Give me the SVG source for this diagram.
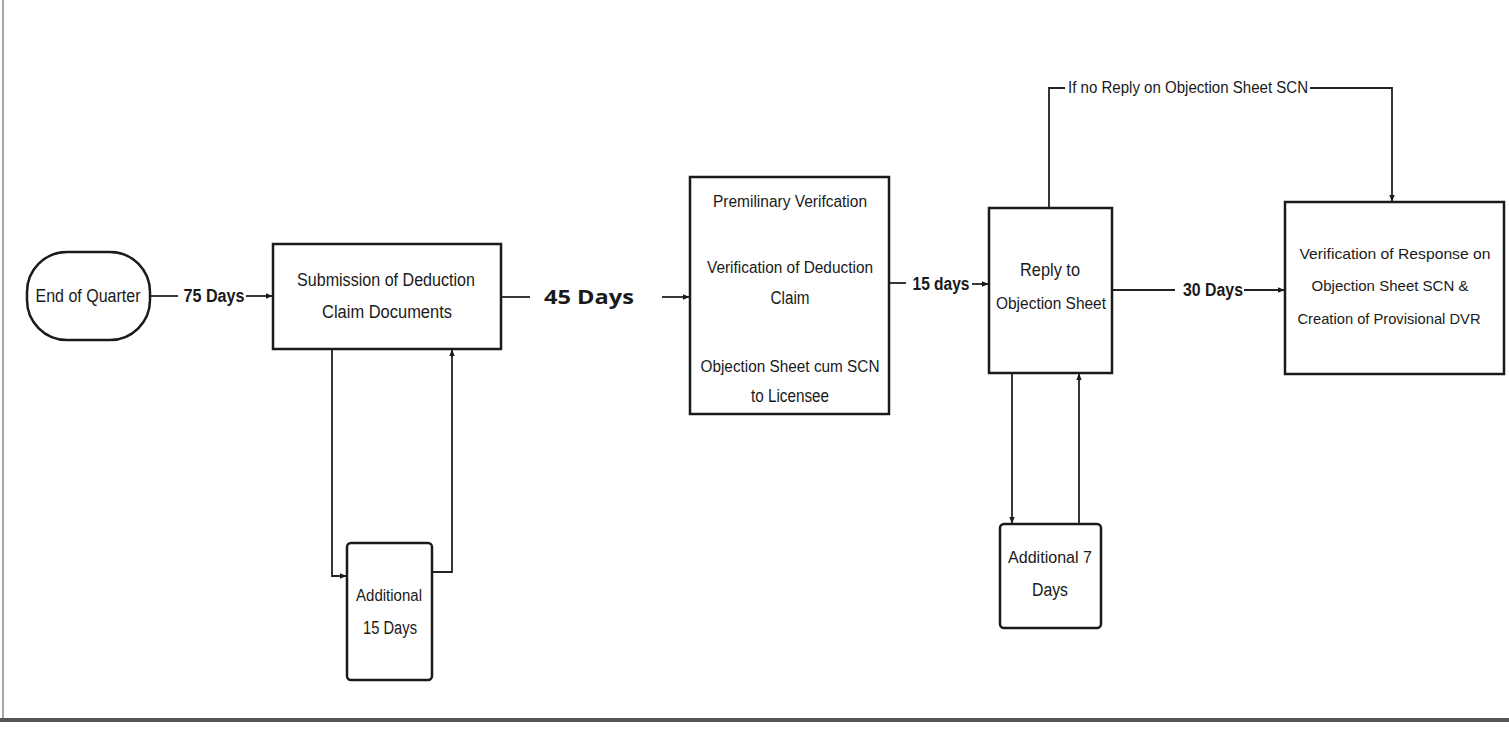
<svg xmlns="http://www.w3.org/2000/svg" width="1509" height="729" viewBox="0 0 1509 729">
<defs>
<marker id="ah" viewBox="0 0 10 10" refX="9" refY="5" markerWidth="7" markerHeight="7" markerUnits="userSpaceOnUse" orient="auto">
<path d="M0,1 L10,5 L0,9 Z" fill="#1a1a1a"/>
</marker>
<style>
.box{fill:#fff;stroke:#1a1a1a;stroke-width:2.5}
.t{font-family:"Liberation Sans",Arial,sans-serif;font-size:18px;fill:#1a1a1a;text-anchor:middle}
.s{font-size:16px}
.b{font-weight:bold}
.c{fill:none;stroke:#222;stroke-width:1.8}
</style>
</defs>
<rect x="0" y="0" width="1509" height="729" fill="#fff"/>
<line x1="3" y1="0" x2="3" y2="722" stroke="#888" stroke-width="1.5"/>
<line x1="0" y1="720" x2="1509" y2="720" stroke="#555" stroke-width="4"/>

<g id="connectors">
<line class="c" x1="150" y1="296" x2="178" y2="296"/>
<line class="c" x1="246" y1="296" x2="272" y2="296" marker-end="url(#ah)"/>
<line class="c" x1="501" y1="297" x2="530" y2="297"/>
<line class="c" x1="662" y1="297" x2="689" y2="297" marker-end="url(#ah)"/>
<line class="c" x1="889" y1="283" x2="906" y2="283"/>
<line class="c" x1="972" y1="284" x2="988" y2="284" marker-end="url(#ah)"/>
<line class="c" x1="1112" y1="290" x2="1175" y2="290"/>
<line class="c" x1="1244" y1="290" x2="1284" y2="290" marker-end="url(#ah)"/>
<polyline class="c" points="1049,208 1049,88 1065,88"/>
<polyline class="c" points="1310,88 1392,88 1392,201" marker-end="url(#ah)"/>
<polyline class="c" points="332,349 332,576 346,576" marker-end="url(#ah)"/>
<polyline class="c" points="432,572 452,572 452,350" marker-end="url(#ah)"/>
<line class="c" x1="1012" y1="373" x2="1012" y2="523" marker-end="url(#ah)"/>
<line class="c" x1="1079" y1="524" x2="1079" y2="374" marker-end="url(#ah)"/>
</g>

<g id="labels">
<text class="t b" x="214" y="302" textLength="61" lengthAdjust="spacingAndGlyphs">75 Days</text>
<text class="t b" x="589" y="304" style="font-family:'Open Sans','Liberation Sans',sans-serif;font-size:20px" textLength="90" lengthAdjust="spacingAndGlyphs">45 Days</text>
<text class="t b" x="941" y="290" textLength="57" lengthAdjust="spacingAndGlyphs">15 days</text>
<text class="t b" x="1213" y="296" textLength="60" lengthAdjust="spacingAndGlyphs">30 Days</text>
<text class="t" x="1188" y="93" style="font-size:16px" textLength="240" lengthAdjust="spacingAndGlyphs">If no Reply on Objection Sheet SCN</text>
</g>

<g id="end-of-quarter">
<rect class="box" x="27" y="252" width="123" height="88" rx="40" ry="40"/>
<text class="t" x="88" y="302" textLength="105" lengthAdjust="spacingAndGlyphs">End of Quarter</text>
</g>

<g id="submission">
<rect class="box" x="273" y="244" width="228" height="105"/>
<text class="t" x="386" y="286" textLength="178" lengthAdjust="spacingAndGlyphs">Submission of Deduction</text>
<text class="t" x="387" y="318" textLength="130" lengthAdjust="spacingAndGlyphs">Claim Documents</text>
</g>

<g id="verification">
<rect class="box" x="690" y="177" width="199" height="237"/>
<text class="t s" x="790" y="207" textLength="154" lengthAdjust="spacingAndGlyphs">Premilinary Verifcation</text>
<text class="t s" x="790" y="273" textLength="166" lengthAdjust="spacingAndGlyphs">Verification of Deduction</text>
<text class="t" x="790" y="304" textLength="39" lengthAdjust="spacingAndGlyphs">Claim</text>
<text class="t s" x="790" y="372" textLength="179" lengthAdjust="spacingAndGlyphs">Objection Sheet cum SCN</text>
<text class="t" x="790" y="402" textLength="78" lengthAdjust="spacingAndGlyphs">to Licensee</text>
</g>

<g id="reply">
<rect class="box" x="989" y="208" width="123" height="165"/>
<text class="t" x="1050" y="276" textLength="60" lengthAdjust="spacingAndGlyphs">Reply to</text>
<text class="t s" x="1051" y="309" textLength="110" lengthAdjust="spacingAndGlyphs">Objection Sheet</text>
</g>

<g id="response">
<rect class="box" x="1285" y="202" width="219" height="172"/>
<text class="t" x="1395" y="259" style="font-size:15px" textLength="191" lengthAdjust="spacingAndGlyphs">Verification of Response on</text>
<text class="t" x="1390" y="291" style="font-size:15px" textLength="157" lengthAdjust="spacingAndGlyphs">Objection Sheet SCN &amp;</text>
<text class="t" x="1389" y="324" style="font-size:15px" textLength="183" lengthAdjust="spacingAndGlyphs">Creation of Provisional DVR</text>
</g>

<g id="additional-15">
<rect class="box" x="347" y="543" width="85" height="137" rx="4"/>
<text class="t s" x="389" y="601" textLength="66" lengthAdjust="spacingAndGlyphs">Additional</text>
<text class="t" x="390" y="634" textLength="54" lengthAdjust="spacingAndGlyphs">15 Days</text>
</g>

<g id="additional-7">
<rect class="box" x="1000" y="524" width="101" height="104" rx="4"/>
<text class="t s" x="1050" y="563" textLength="84" lengthAdjust="spacingAndGlyphs">Additional 7</text>
<text class="t" x="1050" y="596" textLength="36" lengthAdjust="spacingAndGlyphs">Days</text>
</g>
</svg>
